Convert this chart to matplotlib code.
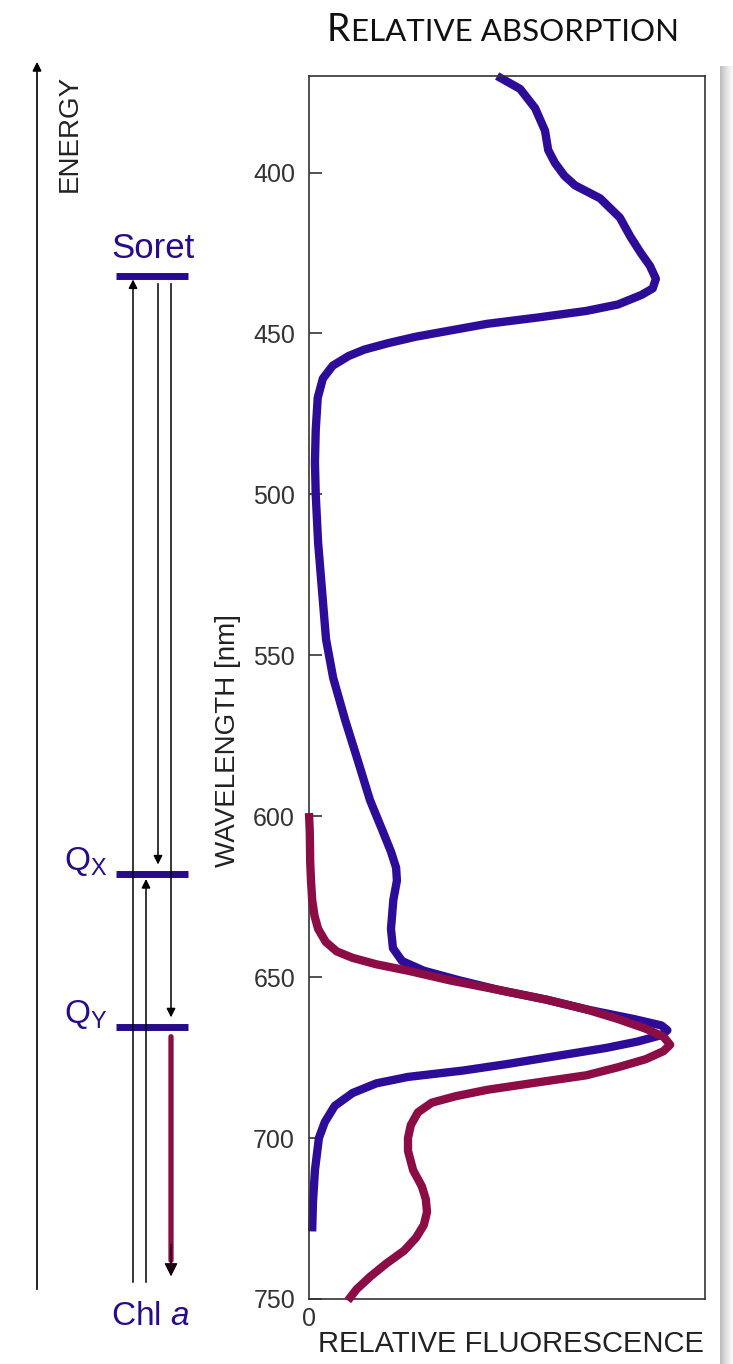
import numpy as np
import matplotlib
matplotlib.use("Agg")
import matplotlib.pyplot as plt

plt.rcParams['font.family'] = ['Liberation Sans', 'DejaVu Sans']
plt.rcParams['mathtext.fontset'] = 'custom'
plt.rcParams['mathtext.rm'] = 'Liberation Sans'
plt.rcParams['mathtext.it'] = 'Liberation Sans:italic'

# absorption spectrum of Chl a (blue): wavelength [nm] -> relative absorption
abs_wl = [370, 374, 380, 387, 393, 397, 401, 404, 408, 414, 420, 425, 429, 433,
          436, 438, 441, 443, 445, 447, 449, 451, 453, 455, 457, 460, 464, 470,
          480, 490, 500, 515, 530, 545, 557, 570, 583, 595, 604, 611, 616, 620,
          626, 635, 641, 645, 648, 651, 654, 657, 660, 663, 665, 666.5, 668, 670,
          672, 674, 677, 679, 681, 683, 686, 690, 695, 700, 710, 720, 729]
abs_val = [0.475, 0.533, 0.571, 0.596, 0.604, 0.621, 0.645, 0.672, 0.735, 0.785,
           0.812, 0.838, 0.861, 0.876, 0.868, 0.84, 0.78, 0.70, 0.58, 0.45, 0.36,
           0.27, 0.20, 0.14, 0.10, 0.06, 0.035, 0.022, 0.017, 0.015, 0.017, 0.023,
           0.033, 0.043, 0.061, 0.091, 0.124, 0.154, 0.184, 0.207, 0.22, 0.222,
           0.213, 0.207, 0.212, 0.235, 0.29, 0.38, 0.48, 0.60, 0.70, 0.82, 0.89,
           0.905, 0.89, 0.83, 0.75, 0.65, 0.50, 0.39, 0.25, 0.17, 0.11, 0.065,
           0.04, 0.025, 0.015, 0.01, 0.008]

# fluorescence emission (red): wavelength [nm] -> relative fluorescence
fl_wl = [599, 605, 614, 620, 626, 631, 635, 639, 642, 644, 646, 648, 651, 654,
         657, 660, 663, 666, 668.5, 671, 673, 675.5, 678, 680.5, 683, 685, 687,
         689, 692, 696, 700, 704, 710, 715, 719, 723, 727, 731, 735, 739, 743,
         747, 750.5]
fl_val = [0.0, 0.002, 0.003, 0.005, 0.008, 0.014, 0.023, 0.042, 0.07, 0.11, 0.17,
          0.25, 0.356, 0.48, 0.60, 0.70, 0.78, 0.85, 0.895, 0.912, 0.895, 0.85,
          0.78, 0.70, 0.56, 0.45, 0.37, 0.31, 0.275, 0.257, 0.25, 0.25, 0.263,
          0.285, 0.295, 0.298, 0.29, 0.27, 0.24, 0.195, 0.155, 0.12, 0.098]

wl_ticks = [400, 450, 500, 550, 600, 650, 700, 750]

# energy level diagram, levels placed at their band wavelength
level_labels = ['Soret', r'Q$_\mathregular{X}$', r'Q$_\mathregular{Y}$']
level_wl = [432, 618, 665.5]
ground_wl = 744.8

BLUE = '#2d0c9a'
RED = '#8c0c45'
NAVY = '#2a0a8c'

W, H = 733, 1364
fig = plt.figure(figsize=(W / 100, H / 100), dpi=100)

# panel shadow on the right
ov = fig.add_axes([0, 0, 1, 1], zorder=-1)
ov.set_xlim(0, W)
ov.set_ylim(H, 0)
ov.axis('off')
grad = np.linspace(0.38, 0.04, 40)[None, :]
ov.imshow(grad, extent=[720, W, H, 66], cmap='Greys', vmin=0, vmax=1,
          aspect='auto', interpolation='bilinear')

ax_left, ax_right = 309 / W, 705 / W
ax_bottom = (H - 1299) / H
ax_height = (1299 - 76) / H
ax = fig.add_axes([ax_left, ax_bottom, ax_right - ax_left, ax_height])

ax.plot(fl_val, fl_wl, color=RED, lw=6, solid_capstyle='butt',
        solid_joinstyle='round', clip_on=False, zorder=3)
ax.plot(abs_val, abs_wl, color=BLUE, lw=6, solid_capstyle='butt',
        solid_joinstyle='round', clip_on=False, zorder=2)

ax.set_xlim(0, 1)
ax.set_ylim(750, 370)
ax.set_yticks(wl_ticks)
ax.set_xticks([0])
ax.set_xticklabels(['0'])
ax.tick_params(axis='y', direction='in', length=9, width=1.2, color='#333333',
               labelsize=18, pad=10, labelcolor='#333333')
ax.tick_params(axis='x', length=0, labelsize=18, pad=6, labelcolor='#333333')
for sp in ax.spines.values():
    sp.set_color('#333333')
    sp.set_linewidth(1.2)

ax.set_xlabel('RELATIVE FLUORESCENCE', fontsize=21, color='#222222')
ax.xaxis.set_label_coords(0.51, -0.0365)
ax.xaxis.label.set_va('center')
ax.set_ylabel('WAVELENGTH [nm]', fontsize=20, color='#222222')
ax.yaxis.set_label_coords(-0.2045, 0.457)
ax.yaxis.label.set_va('center')

# title in small caps
ov.text(327, 41, 'R', fontsize=27, family='Lato', va='baseline', ha='left',
        color='#111111')
ov.text(351, 41, 'ELATIVE ABSORPTION', fontsize=22.5, family='Lato',
        va='baseline', ha='left', color='#111111')

# energy diagram sharing the wavelength scale
dax = fig.add_axes([0, ax_bottom, ax_left, ax_height], sharey=ax)
dax.set_xlim(0, 309)
dax.axis('off')

dax.hlines(level_wl, 116, 188, color=NAVY, lw=5, zorder=3)
dax.text(153, level_wl[0] - 5.6, level_labels[0], fontsize=25, color=NAVY,
         ha='center', va='baseline')
for lab, wl in zip(level_labels[1:], level_wl[1:]):
    dax.text(107, wl - 4, lab, fontsize=24, color=NAVY, ha='right', va='center')
dax.text(150, ground_wl + 10.5, r'Chl $\it{a}$', fontsize=24, color=NAVY,
         ha='center', va='center')
dax.text(70, 388, 'ENERGY', fontsize=20, rotation=90, ha='center', va='center',
         color='#222222')


def arrow(x, y0, y1, color='black', lw=1.1, ms=13):
    dax.annotate('', xy=(x, y1), xytext=(x, y0), annotation_clip=False,
                 arrowprops=dict(arrowstyle='-|>', color=color, lw=lw,
                                 mutation_scale=ms, shrinkA=0, shrinkB=0))


arrow(37, 747, 365.6, lw=1.2, ms=13)
# absorption transitions (up) and relaxation (down)
arrow(133, ground_wl, level_wl[0] + 1.2)
arrow(146, ground_wl, level_wl[1] + 1.5)
arrow(158, level_wl[0] + 2.5, level_wl[1] - 3)
arrow(171, level_wl[0] + 2.5, level_wl[2] - 3)
# fluorescence emission
dax.annotate('', xy=(171, 738), xytext=(171, level_wl[2] + 3),
             annotation_clip=False,
             arrowprops=dict(arrowstyle='-', color=RED, lw=3.8,
                             shrinkA=0, shrinkB=0))
arrow(171, 733, 743, color='#1a0010', lw=1, ms=20)

fig.savefig('out.png', dpi=100)
